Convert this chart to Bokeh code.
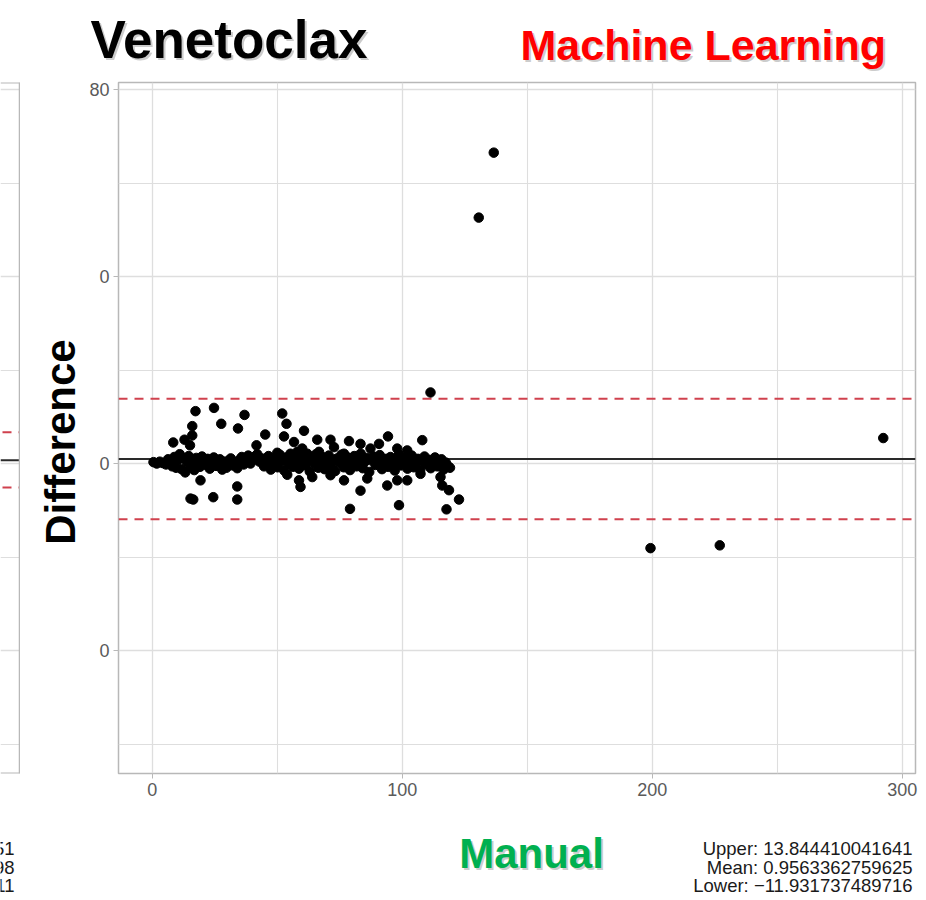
import math

from bokeh.core.properties import value
from bokeh.embed import file_html
from bokeh.layouts import column, row
from bokeh.models import FixedTicker, Range1d, Span
from bokeh.plotting import figure
from bokeh.resources import INLINE

# ---------------------------------------------------------------------------
# Bland-Altman data for Venetoclax: mean of the two measurements (x) and
# their difference, Machine Learning minus Manual (y)
# ---------------------------------------------------------------------------
band_mean = [
    0.5, 1.8, 3.0, 4.2, 5.5, 6.3, 7.1, 8.0, 8.8, 9.5,
    10.2, 11.0, 11.7, 12.4, 13.2, 13.9, 14.6, 15.3, 16.1, 16.8,
    17.6, 18.4, 19.1, 19.9, 20.7, 21.5, 22.2, 23.0, 23.8, 24.6,
    25.5, 26.3, 27.1, 28.0, 28.8, 29.7, 30.5, 31.4, 32.2, 33.1,
    34.0, 34.9, 35.8, 36.6, 37.5, 38.4, 39.3, 40.2, 41.1, 42.0,
    42.9, 43.8, 44.7, 45.6, 46.5, 47.4, 48.3, 49.2, 50.1, 51.0,
    51.9, 52.8, 53.6, 54.5, 55.3, 56.2, 57.0, 57.9, 58.7, 59.6,
    60.4, 61.3, 62.1, 63.0, 63.8, 64.7, 65.5, 66.4, 67.2, 68.1,
    68.9, 69.8, 70.6, 71.5, 72.3, 73.2, 74.0, 74.9, 75.7, 76.6,
    77.4, 78.3, 79.1, 80.0, 80.8, 81.7, 82.5, 83.4, 84.2, 85.1,
    85.9, 86.8, 87.6, 88.5, 89.3, 90.2, 91.0, 91.9, 92.7, 93.6,
    94.4, 95.3, 96.1, 97.0, 97.8, 98.7, 99.5, 100.4, 101.2, 102.1,
    102.9, 103.8, 104.6, 105.5, 106.3, 107.2, 108.0, 108.9, 109.7, 110.6,
    111.4, 112.3, 113.1, 114.0, 114.8, 115.7, 116.5, 117.4, 118.2, 119.1,
]
band_diff = [
    0.3, 0.0, 0.4, 0.1, -0.2, 0.9, 0.2, -0.6, 1.4, -0.9,
    0.7, 2.0, -1.2, 1.1, -1.9, 0.4, 1.6, -0.8, 0.3, -1.4,
    1.2, 0.1, -0.7, 1.5, 0.6, -0.3, 1.0, -1.1, 0.5, 1.3,
    -0.5, 0.2, 0.9, -1.3, 0.4, -0.9, 0.6, 1.1, -0.4, 0.3,
    -1.0, 0.8, 1.4, -0.2, 0.5, 1.7, 0.0, 0.9, 1.5, 2.0,
    0.4, 1.1, -0.6, 0.7, 1.6, -1.3, 0.2, 1.0, -0.8, 1.9,
    0.5, -1.5, 1.3, 0.0, 2.1, -0.7, 0.8, 1.5, -1.1, 0.3,
    1.8, -0.4, 0.9, -1.7, 1.2, 0.1, 2.0, -0.9, 0.6, 1.4,
    -1.2, 0.3, 1.7, -0.5, 0.8, -1.6, 1.1, 0.2, 1.9, -0.8,
    0.5, 1.3, -1.4, 0.0, 1.6, -0.6, 0.9, 2.1, -1.0, 0.4,
    1.2, -1.8, 0.7, 1.5, -0.3, 0.2, 1.8, -1.2, 0.6, 1.0,
    -0.7, 1.4, 0.1, -1.5, 0.8, 1.9, -0.4, 0.3, 1.2, -1.1,
    0.6, 1.7, -0.8, 0.2, 1.0, -1.4, 0.5, 1.5, -0.2, 0.8,
    -1.0, 0.4, 1.3, -0.6, 0.1, 0.9, -1.3, 0.2, -0.5, -0.9,
]

spread_mean = [
    17.3, 24.7, 27.6, 16.0, 34.3, 36.9, 52.0, 53.7, 45.2, 52.7,
    41.7, 8.4, 12.9, 16.0, 15.1, 60.7, 56.7, 60.0, 66.0, 71.3,
    78.7, 83.3, 90.7, 94.3, 108.0, 98.0, 102.0, 87.3, 76.7, 72.7,
    66.7, 58.0, 50.0, 62.0,
    19.3, 15.3, 16.4, 24.4, 34.0, 34.0, 54.0, 58.7, 59.3, 79.1,
    83.3, 86.0, 94.0, 98.7, 98.0, 102.0, 115.3, 116.0, 118.7, 122.7,
    117.7, 76.7, 64.0, 71.3, 107.3,
]
spread_diff = [
    11.2, 11.9, 8.5, 8.0, 7.5, 10.4, 10.7, 8.5, 6.2, 5.8,
    3.9, 4.5, 5.1, 6.0, 3.9, 7.0, 4.6, 3.2, 5.1, 5.1,
    4.8, 4.2, 4.2, 5.8, 5.0, 3.2, 2.8, 3.2, 2.1, 3.5,
    2.5, 2.5, 2.3, 2.1,
    -3.6, -7.5, -7.7, -7.2, -4.9, -7.7, -2.4, -3.6, -5.0, -9.7,
    -5.8, -3.2, -4.7, -8.9, -3.6, -3.6, -2.9, -4.7, -5.7, -7.7,
    -9.8, -3.6, -2.9, -2.5, -2.2,
]

outlier_mean = [130.6, 136.6, 111.3, 199.3, 227.0, 292.4]
outlier_diff = [52.6, 66.5, 15.2, -18.1, -17.5, 5.45]

# Limits of agreement
upper_loa = 13.844410041641
mean_diff = 0.9563362759625
lower_loa = -11.931737489716

# Neighbouring panel (only its right edge is in view)
side_upper = 6.7
side_mean = 0.7
side_lower = -5.1
side_tails = ["51", "98", "11"]

x_ticks = [0, 100, 200, 300]
x_minor = [50, 150, 250]
y_ticks = [-40, 0, 40, 80]
y_minor = [-60, -20, 20, 60]
y_tick_text = {80: "80", 40: "0", 0: "0", -40: "0"}

stat_lines = [
    f"Upper: {upper_loa}",
    f"Mean: {mean_diff}",
    "Lower: \u2212" + f"{abs(lower_loa)}",
]

# ---------------------------------------------------------------------------
# Page geometry (pixels)
# ---------------------------------------------------------------------------
PAGE_W, PAGE_H = 926, 900
TOP_H = 80            # title strip
BOTTOM_TOP = 818      # start of the caption strip
SIDE_W = 20           # sliver of the neighbouring panel
LABEL_R = 82          # right edge of the strip holding "Difference"
FRAME_L, FRAME_R, FRAME_T, FRAME_B = 118, 915, 82, 773
MID_H = BOTTOM_TOP - TOP_H

X_RANGE = (-13.5, 305.3)
Y_RANGE = (-66.3, 81.5)

FONT = "Liberation Sans"
GRID = "#dedede"
BORDER = "#b8b8b8"
TICK_TEXT = "#5a5a5a"
DASH_RED = "#d0414e"
STAT_SIZE = 18.5
MID_SHIFT = 0.36      # distance from text middle to baseline, in em


def text_strip(x0, x1, y0, y1):
    """A bare figure whose frame maps page pixels one to one (y upward from y1)."""
    f = figure(
        width=x1 - x0, height=y1 - y0,
        x_range=Range1d(x0, x1), y_range=Range1d(0, y1 - y0),
        output_backend="svg", toolbar_location=None,
        x_axis_location=None, y_axis_location=None,
        min_border=0, min_border_left=0, min_border_right=0,
        min_border_top=0, min_border_bottom=0,
        background_fill_color="white", border_fill_color="white",
    )
    f.outline_line_color = None
    f.grid.visible = False
    f.tags = [y1]
    return f


def put_text(f, text, x, base, size, color, align="left", angle=0.0,
             bold=True, shadow=False):
    """Place text whose alphabetic baseline sits at page position `base`."""
    style = "bold" if bold else "normal"
    y1 = f.tags[0]
    if angle:
        # rotated a quarter turn: the baseline is a vertical line at x = base
        px, py = base - MID_SHIFT * size, x
    else:
        px, py = x, base - MID_SHIFT * size
    y = y1 - py
    kw = dict(text_font=value(FONT), text_font_style=style,
              text_font_size=f"{size}px", text_align=align,
              text_baseline="middle", angle=angle)
    if shadow:
        f.text(x=[px], y=[y], text=[text], text_color="#9a9a9a", text_alpha=0.5,
               x_offset=2, y_offset=2, **kw)
    f.text(x=[px], y=[y], text=[text], text_color=color, **kw)


# ---------------------------------------------------------------------------
# Title strip
# ---------------------------------------------------------------------------
top = text_strip(0, PAGE_W, 0, TOP_H)
put_text(top, "Venetoclax", 90, 58, 53, "black", shadow=True)
put_text(top, "Machine Learning", 520, 60, 43, "#ff0000", shadow=True)

# ---------------------------------------------------------------------------
# Y-axis title strip
# ---------------------------------------------------------------------------
ytitle = text_strip(SIDE_W, LABEL_R, TOP_H, BOTTOM_TOP)
put_text(ytitle, "Difference", 464, 75, 42, "black", align="center",
         angle=math.pi / 2)

# ---------------------------------------------------------------------------
# Main Bland-Altman panel
# ---------------------------------------------------------------------------
p = figure(
    width=PAGE_W - LABEL_R,
    height=MID_H,
    x_range=Range1d(*X_RANGE),
    y_range=Range1d(*Y_RANGE),
    output_backend="svg",
    toolbar_location=None,
    min_border_left=FRAME_L - LABEL_R,
    min_border_right=PAGE_W - FRAME_R,
    min_border_top=FRAME_T - TOP_H,
    min_border_bottom=BOTTOM_TOP - FRAME_B,
    background_fill_color="white",
    border_fill_color="white",
)
p.outline_line_color = BORDER
p.outline_line_width = 1.5

p.xgrid.ticker = FixedTicker(ticks=x_ticks, minor_ticks=x_minor)
p.ygrid.ticker = FixedTicker(ticks=y_ticks, minor_ticks=y_minor)
for g in (p.xgrid, p.ygrid):
    g.grid_line_color = GRID
    g.grid_line_width = 1.3
    g.minor_grid_line_color = GRID
    g.minor_grid_line_width = 1.1

p.xaxis.ticker = FixedTicker(ticks=x_ticks)
p.yaxis.ticker = FixedTicker(ticks=y_ticks)
p.yaxis.major_label_overrides = y_tick_text
for ax in (p.xaxis, p.yaxis):
    ax.axis_line_color = None
    ax.major_tick_line_color = BORDER
    ax.major_tick_in = 0
    ax.major_tick_out = 5
    ax.minor_tick_line_color = None
    ax.major_label_text_font = FONT
    ax.major_label_text_font_size = "18px"
    ax.major_label_text_color = TICK_TEXT
    ax.major_label_standoff = 4

# reference lines, beneath the points
p.add_layout(Span(location=upper_loa, dimension="width", line_color=DASH_RED,
                  line_dash="9 7", line_width=2, level="underlay"))
p.add_layout(Span(location=lower_loa, dimension="width", line_color=DASH_RED,
                  line_dash="9 7", line_width=2, level="underlay"))
p.add_layout(Span(location=mean_diff, dimension="width", line_color="#2a2a2a",
                  line_width=2, level="underlay"))

all_mean = band_mean + spread_mean + outlier_mean
all_diff = band_diff + spread_diff + outlier_diff
p.scatter(all_mean, all_diff, size=9.5, color="black")

# ---------------------------------------------------------------------------
# Right edge of the neighbouring panel
# ---------------------------------------------------------------------------
side = figure(
    width=SIDE_W,
    height=MID_H,
    x_range=Range1d(0, SIDE_W),
    y_range=Range1d(*Y_RANGE),
    output_backend="svg",
    toolbar_location=None,
    x_axis_location=None,
    y_axis_location=None,
    min_border_left=0,
    min_border_right=0,
    min_border_top=FRAME_T - TOP_H,
    min_border_bottom=BOTTOM_TOP - FRAME_B,
    background_fill_color="white",
    border_fill_color="white",
)
side.outline_line_color = None
side.xgrid.visible = False
side.ygrid.ticker = FixedTicker(ticks=y_ticks, minor_ticks=y_minor)
side.ygrid.grid_line_color = GRID
side.ygrid.grid_line_width = 1.3
side.ygrid.minor_grid_line_color = GRID
side.add_layout(Span(location=19, dimension="height", line_color=BORDER, line_width=1.5))
side.add_layout(Span(location=Y_RANGE[1], dimension="width", line_color=BORDER, line_width=2))
side.add_layout(Span(location=Y_RANGE[0], dimension="width", line_color=BORDER, line_width=2))
side.add_layout(Span(location=side_upper, dimension="width", line_color=DASH_RED,
                     line_dash="9 7", line_dash_offset=14, line_width=2, level="underlay"))
side.add_layout(Span(location=side_lower, dimension="width", line_color=DASH_RED,
                     line_dash="9 7", line_dash_offset=14, line_width=2, level="underlay"))
side.add_layout(Span(location=side_mean, dimension="width", line_color="#2a2a2a",
                     line_width=2, level="underlay"))

# ---------------------------------------------------------------------------
# Caption strip: x-axis title and limits of agreement
# ---------------------------------------------------------------------------
bottom = text_strip(0, PAGE_W, BOTTOM_TOP, PAGE_H)
put_text(bottom, "Manual", 531, 868, 42, "#00b050", align="center", shadow=True)
for i, line in enumerate(stat_lines):
    put_text(bottom, line, 912, 855 + i * 18.5, STAT_SIZE, "#1a1a1a",
             align="right", bold=False)
for i, tail in enumerate(side_tails):
    put_text(bottom, tail, 14, 855 + i * 18.5, STAT_SIZE, "#1a1a1a",
             align="right", bold=False)

layout = column(
    top,
    row(side, ytitle, p, spacing=0),
    bottom,
    spacing=0,
)

with open("out.html", "w") as f:
    f.write(file_html(layout, INLINE))
